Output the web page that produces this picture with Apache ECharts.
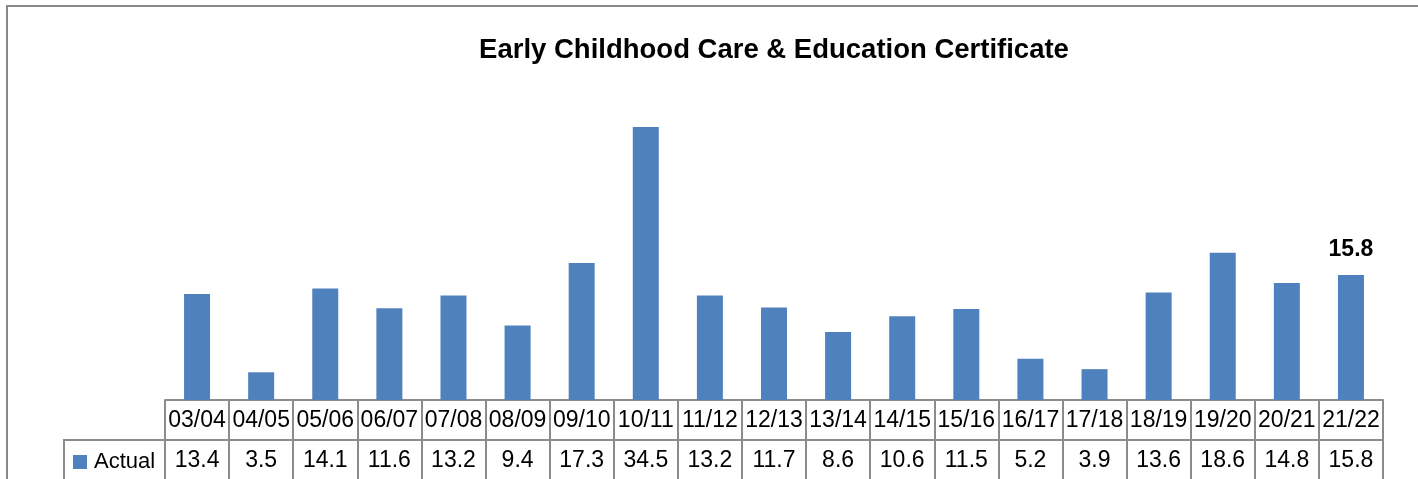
<!DOCTYPE html>
<html>
<head>
<meta charset="utf-8">
<script src="https://cdn.jsdelivr.net/npm/echarts@6/dist/echarts.min.js"></script>
<style>
  html, body { margin: 0; padding: 0; background: #fff; }
  #chart { width: 1418px; height: 479px; }
</style>
</head>
<body>
<div id="chart"></div>
<script>
// chart data
var categories = ['03/04', '04/05', '05/06', '06/07', '07/08', '08/09', '09/10', '10/11', '11/12', '12/13',
  '13/14', '14/15', '15/16', '16/17', '17/18', '18/19', '19/20', '20/21', '21/22']
var actual = [13.4, 3.5, 14.1, 11.6, 13.2, 9.4, 17.3, 34.5, 13.2, 11.7, 8.6, 10.6, 11.5, 5.2, 3.9, 13.6, 18.6, 14.8, 15.8]
var seriesName = 'Actual'
var chartTitle = 'Early Childhood Care & Education Certificate'

var font = 'Liberation Sans'
var lineColor = '#8c8c8c'
var barColor = '#4f81bd'

var myChart = echarts.init(document.getElementById('chart'))

var barData = actual.map(function (v, i) {
  if (i === actual.length - 1) {
    return {
      value: v,
      label: {
        show: true,
        position: 'top',
        distance: 14,
        fontFamily: font,
        fontWeight: 'bold',
        fontSize: 23,
        color: '#000'
      }
    }
  }
  return v
})

var option = {
  animation: false,
  backgroundColor: '#fff',
  title: {
    text: chartTitle,
    left: 769,
    top: 31,
    textAlign: 'center',
    textStyle: {
      fontFamily: font,
      fontWeight: 'bold',
      fontSize: 27.5,
      color: '#000'
    }
  },
  legend: {
    left: 73,
    top: 451,
    padding: 0,
    icon: 'rect',
    itemWidth: 14,
    itemHeight: 14,
    itemGap: 8,
    textStyle: { fontFamily: font, fontSize: 22, color: '#000', padding: [0, 0, 0, 2] },
    data: [seriesName]
  },
  grid: {
    left: 165,
    right: 35,
    top: 83.5,
    bottom: 79
  },
  xAxis: [{
    type: 'category',
    position: 'bottom',
    data: categories,
    axisLine: { show: true, lineStyle: { color: lineColor, width: 2 } },
    axisTick: { show: true, length: 40, lineStyle: { color: lineColor, width: 2 } },
    axisLabel: {
      interval: 0,
      margin: 9,
      fontFamily: font,
      fontSize: 23,
      color: '#000'
    }
  }, {
    type: 'category',
    position: 'bottom',
    offset: 40,
    data: actual.map(function (v) { return v.toFixed(1) }),
    axisLine: { show: true, lineStyle: { color: lineColor, width: 2 } },
    axisTick: { show: true, length: 45, lineStyle: { color: lineColor, width: 2 } },
    axisLabel: {
      interval: 0,
      margin: 9,
      fontFamily: font,
      fontSize: 23,
      color: '#000'
    }
  }],
  yAxis: {
    type: 'value',
    min: 0,
    max: 40,
    show: false
  },
  series: [{
    name: seriesName,
    type: 'bar',
    xAxisIndex: 0,
    barWidth: 26,
    itemStyle: { color: barColor },
    data: barData
  }],
  graphic: [
    {
      type: 'rect',
      shape: { x: 7, y: 6, width: 1440, height: 520 },
      style: { fill: null, stroke: '#878787', lineWidth: 2 },
      silent: true
    },
    {
      type: 'line',
      shape: { x1: 64, y1: 440, x2: 166, y2: 440 },
      style: { stroke: lineColor, lineWidth: 2 },
      silent: true
    },
    {
      type: 'line',
      shape: { x1: 64, y1: 439, x2: 64, y2: 490 },
      style: { stroke: lineColor, lineWidth: 2 },
      silent: true
    }
  ]
}

myChart.setOption(option)
</script>
</body>
</html>
